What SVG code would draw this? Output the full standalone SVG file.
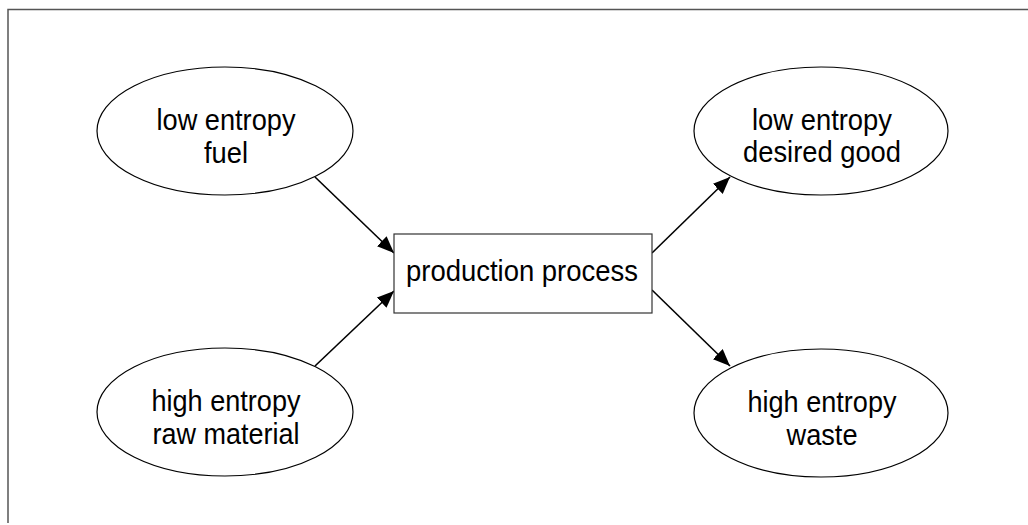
<svg xmlns="http://www.w3.org/2000/svg" width="1028" height="525" viewBox="0 0 1028 525">
  <style>
    .frame { stroke: #555; stroke-width: 1.5; fill: none; }
    .oval { fill: #fff; stroke: #000; stroke-width: 1.2; }
    .box { fill: #fff; stroke: #333; stroke-width: 1.2; }
    .label { font-family: "Liberation Sans", Arial, sans-serif; font-size: 30px; fill: #000; text-anchor: middle; }
    .edge { stroke: #000; stroke-width: 1.6; fill: none; marker-end: url(#arrow); }
  </style>
  <defs>
    <marker id="arrow" markerUnits="userSpaceOnUse" markerWidth="18" markerHeight="14" refX="17" refY="7" orient="auto">
      <path d="M0,0 L17,7 L0,14 Z" fill="#000"/>
    </marker>
  </defs>

  <!-- page frame: top and left edges only -->
  <path class="frame" d="M8,523 L8,9.5 L1028,9.5"/>

  <!-- connectors -->
  <g id="connectors">
    <line class="edge" x1="315" y1="177" x2="394" y2="253"/>
    <line class="edge" x1="315" y1="366" x2="394" y2="291"/>
    <line class="edge" x1="652" y1="253" x2="730" y2="177"/>
    <line class="edge" x1="652" y1="290" x2="730" y2="366"/>
  </g>

  <!-- labels use a condensed, tall sans face: narrowed with textLength -->
  <g id="fuel">
    <ellipse class="oval" cx="225" cy="131" rx="128" ry="64"/>
    <text class="label" x="226" y="130" textLength="139" lengthAdjust="spacingAndGlyphs">low entropy</text>
    <text class="label" x="226" y="163" textLength="44" lengthAdjust="spacingAndGlyphs">fuel</text>
  </g>

  <g id="raw-material">
    <ellipse class="oval" cx="225" cy="412" rx="128" ry="64"/>
    <text class="label" x="226" y="411" textLength="149" lengthAdjust="spacingAndGlyphs">high entropy</text>
    <text class="label" x="226" y="444" textLength="147" lengthAdjust="spacingAndGlyphs">raw material</text>
  </g>

  <g id="production">
    <rect class="box" x="394" y="234" width="258" height="79"/>
    <text class="label" x="522" y="281" textLength="232" lengthAdjust="spacingAndGlyphs">production process</text>
  </g>

  <g id="desired-good">
    <ellipse class="oval" cx="821" cy="131" rx="127" ry="64"/>
    <text class="label" x="822" y="130" textLength="140" lengthAdjust="spacingAndGlyphs">low entropy</text>
    <text class="label" x="822" y="162" textLength="158" lengthAdjust="spacingAndGlyphs">desired good</text>
  </g>

  <g id="waste">
    <ellipse class="oval" cx="821" cy="413" rx="127" ry="64"/>
    <text class="label" x="822" y="412" textLength="149" lengthAdjust="spacingAndGlyphs">high entropy</text>
    <text class="label" x="822" y="445" textLength="71" lengthAdjust="spacingAndGlyphs">waste</text>
  </g>
</svg>
